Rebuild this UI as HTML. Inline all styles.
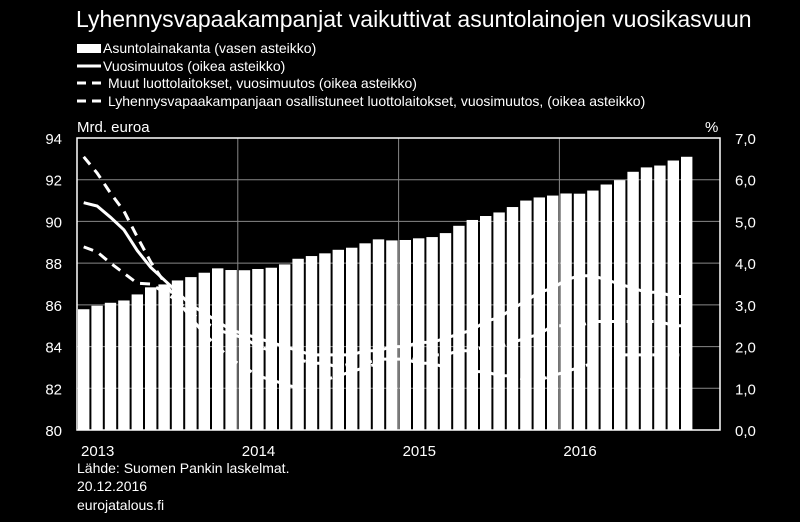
<!DOCTYPE html>
<html><head><meta charset="utf-8"><style>
body{margin:0;background:#000;width:800px;height:522px;overflow:hidden}
svg{display:block;font-family:"Liberation Sans",sans-serif}
</style></head><body>
<svg width="800" height="522" viewBox="0 0 800 522">
<text x="76" y="27" fill="#fff" font-size="23">Lyhennysvapaakampanjat vaikuttivat asuntolainojen vuosikasvuun</text>
<g id="legend" fill="#fff" font-size="14">
<g><rect x="77" y="44" width="24" height="9" fill="#fff"/><text x="103" y="53">Asuntolainakanta (vasen asteikko)</text></g>
<g><line x1="77" y1="66" x2="101" y2="66" stroke="#fff" stroke-width="3"/><text x="103" y="71">Vuosimuutos (oikea asteikko)</text></g>
<g><line x1="77" y1="83" x2="101" y2="83" stroke="#fff" stroke-width="3" stroke-dasharray="9,6"/><text x="108" y="88">Muut luottolaitokset, vuosimuutos (oikea asteikko)</text></g>
<g><line x1="77" y1="101" x2="101" y2="101" stroke="#fff" stroke-width="3" stroke-dasharray="9,6"/><text x="108" y="106">Lyhennysvapaakampanjaan osallistuneet luottolaitokset, vuosimuutos, (oikea asteikko)</text></g>
</g>
<text x="77" y="132" fill="#fff" font-size="15">Mrd. euroa</text>
<text x="705" y="132" fill="#fff" font-size="15">%</text>
<g id="plot"></g>
<g fill="#fff" font-size="14">
<text x="77" y="473">Lähde: Suomen Pankin laskelmat.</text>
<text x="77" y="491">20.12.2016</text>
<text x="77" y="510">eurojatalous.fi</text>
</g>
</svg>
<script>
const bars=[85.79,85.96,86.10,86.21,86.50,86.84,86.98,87.17,87.33,87.54,87.75,87.67,87.66,87.72,87.78,87.94,88.21,88.34,88.47,88.64,88.74,88.95,89.14,89.09,89.11,89.19,89.25,89.44,89.79,90.07,90.26,90.43,90.69,91.00,91.15,91.24,91.34,91.33,91.48,91.77,91.98,92.38,92.59,92.68,92.92,93.10];
const solid=[5.45,5.37,5.1,4.8,4.3,3.9,3.6,3.3,3.0,2.8,2.6,2.4,2.3,2.2,2.1,2.0,1.9,1.8,1.8,1.8,1.8,1.9,1.9,2.0,2.0,2.1,2.1,2.2,2.3,2.4,2.6,2.7,2.9,3.1,3.3,3.4,3.6,3.7,3.7,3.6,3.5,3.4,3.3,3.3,3.2,3.2];
const dashUpper=[6.55,6.16,5.68,5.25,4.63,4.03,3.55,3.1,2.8,2.6,2.4,2.3,2.2,2.0,1.9,1.8,1.7,1.6,1.6,1.5,1.6,1.6,1.7,1.7,1.7,1.7,1.8,1.8,1.9,1.9,2.0,2.0,2.1,2.2,2.3,2.5,2.5,2.5,2.6,2.6,2.6,2.6,2.6,2.6,2.5,2.5];
const dashLower=[4.39,4.27,4.0,3.76,3.52,3.5,3.3,3.1,2.7,2.3,2.0,1.7,1.5,1.3,1.2,1.1,1.0,1.1,1.2,1.3,1.4,1.5,1.6,1.7,1.7,1.6,1.6,1.5,1.5,1.4,1.4,1.3,1.3,1.2,1.2,1.3,1.4,1.5,1.6,1.7,1.8,1.8,1.8,1.8,1.8,1.8];
const leftTicks=["80","82","84","86","88","90","92","94"];
const rightTicks=["0,0","1,0","2,0","3,0","4,0","5,0","6,0","7,0"];
const years=["2013","2014","2015","2016"];
const X0=77,X1=720,Y0=430,Y1=138,slot=13.4;
const yL=v=>Y0-(v-80)/14*(Y0-Y1);
const yR=v=>Y0-v/7*(Y0-Y1);
const xc=i=>X0+slot*(i+0.5);
const NS='http://www.w3.org/2000/svg';
const plot=document.getElementById('plot');
function mk(t,a){const e=document.createElementNS(NS,t);for(const k in a)e.setAttribute(k,a[k]);plot.appendChild(e);return e;}
leftTicks.forEach((t,i)=>{const y=yL(80+i*2);
 if(i>0&&i<7){const g=mk('line',{x1:X0,x2:X1,y1:y,y2:y,stroke:'#888','stroke-width':1});}
 const l=mk('text',{x:62,y:y+6,fill:'#fff','font-size':15,'text-anchor':'end'});l.textContent=t;
 const r=mk('text',{x:735,y:y+6,fill:'#fff','font-size':15});r.textContent=rightTicks[i];
});
years.forEach((t,i)=>{const x=X0+i*12*slot;
 if(i>0){const g=mk('line',{x1:x,x2:x,y1:Y1,y2:Y0,stroke:'#888','stroke-width':1});}
 const l=mk('text',{x:x+4,y:456,fill:'#fff','font-size':15});l.textContent=t;
});
function line(arr,dash,name){const d=arr.map((v,i)=>(i?'L':'M')+xc(i).toFixed(1)+','+yR(v).toFixed(1)).join('');
 const p=mk('path',{d:d,fill:'none',stroke:'#fff','stroke-width':3});if(dash)p.setAttribute('stroke-dasharray','10,7');
 }
line(solid,false,'line-vuosimuutos');
line(dashUpper,true,'line-muut');
line(dashLower,true,'line-osallistuneet');
bars.forEach((v,i)=>{const y=yL(v);const r=mk('rect',{x:X0+slot*i+1,y:y,width:slot-2,height:Y0-y,fill:'#fff'});
 });
const f=mk('rect',{x:X0,y:Y1,width:X1-X0,height:Y0-Y1,fill:'none',stroke:'#fff','stroke-width':1.5});

</script>
</body></html>
